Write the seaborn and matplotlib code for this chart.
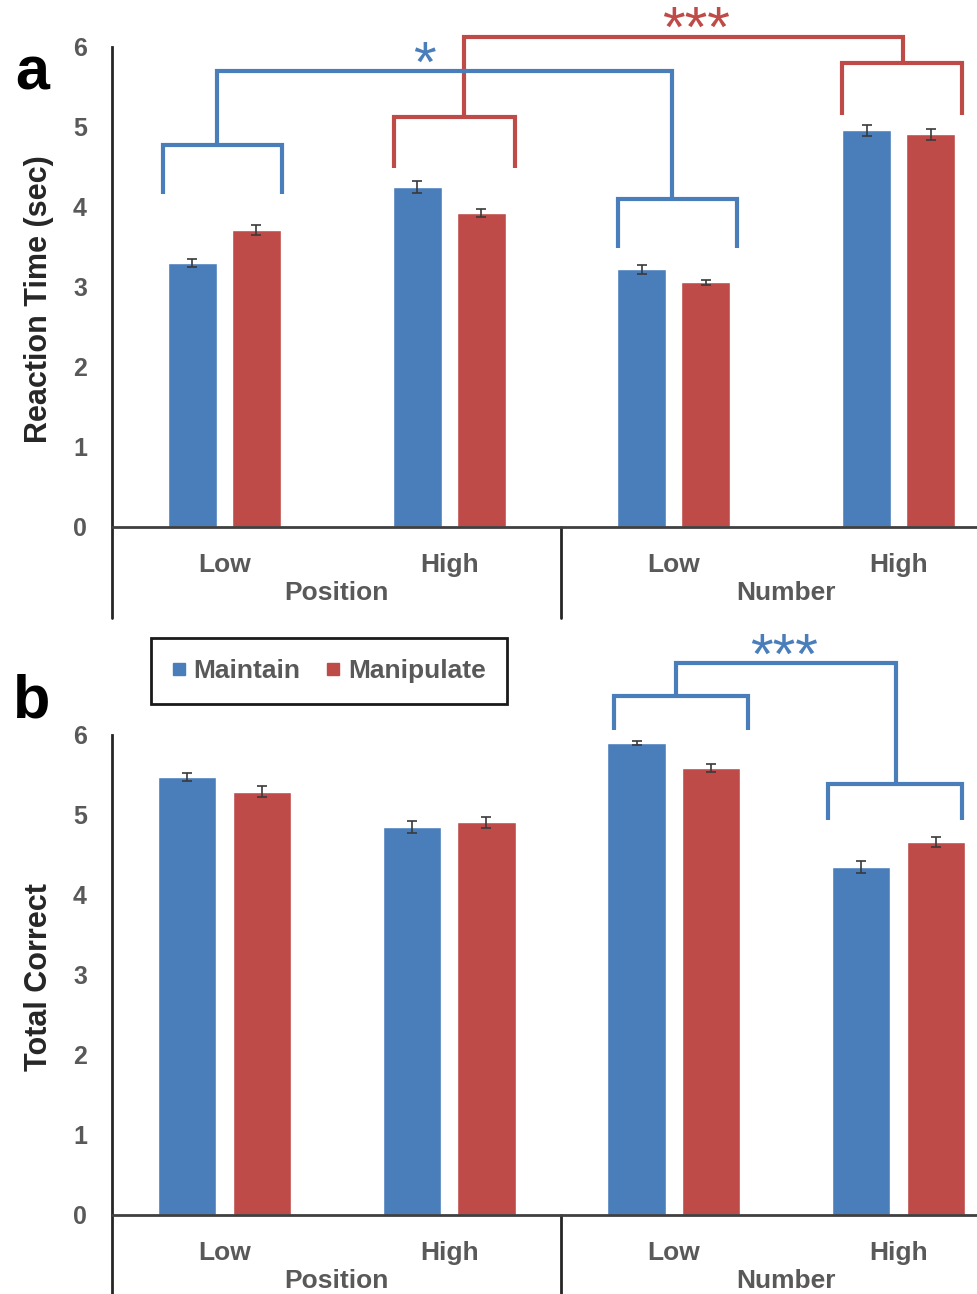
import matplotlib
matplotlib.use('Agg')
import matplotlib.pyplot as plt
from matplotlib.lines import Line2D
import pandas as pd
import seaborn as sns

# x categories (two-level axis: factor / level)
factors = ["Position", "Position", "Number", "Number"]
levels = ["Low", "High", "Low", "High"]
conditions = [f + " " + l for f, l in zip(factors, levels)]
tasks = ["Maintain", "Manipulate"]

# panel a: reaction time (sec)
rt_maintain = [3.30, 4.25, 3.22, 4.96]
rt_manipulate = [3.71, 3.92, 3.06, 4.91]
rt_maintain_err = [0.05, 0.07, 0.06, 0.07]
rt_manipulate_err = [0.06, 0.05, 0.03, 0.07]

# panel b: total correct
tc_maintain = [5.47, 4.85, 5.90, 4.35]
tc_manipulate = [5.29, 4.91, 5.59, 4.66]
tc_maintain_err = [0.05, 0.08, 0.02, 0.07]
tc_manipulate_err = [0.07, 0.07, 0.05, 0.06]

blue = "#4A7EBB"
red = "#BE4B48"
grey = "#595959"
dark = "#262626"

sns.set_theme(style="white")
plt.rcParams['font.family'] = ['Liberation Sans', 'DejaVu Sans']

fig = plt.figure(figsize=(9.78, 12.94), dpi=100)
ax_a = fig.add_axes([112 / 978, 1 - 527 / 1294, 899 / 978, 480 / 1294])
ax_b = fig.add_axes([112 / 978, 1 - 1215 / 1294, 899 / 978, 480 / 1294])


def draw_panel(ax, maint, manip, maint_err, manip_err, ylabel, width, gap, label_y):
    df = pd.DataFrame({
        "condition": conditions * 2,
        "task": ["Maintain"] * 4 + ["Manipulate"] * 4,
        "value": maint + manip,
    })
    sns.barplot(df, x="condition", y="value", hue="task", order=conditions,
                hue_order=tasks, palette=[blue, red], width=width, gap=gap,
                errorbar=None, saturation=1, legend=False, ax=ax)
    for cont, errs in zip(ax.containers, [maint_err, manip_err]):
        xs = [b.get_x() + b.get_width() / 2 for b in cont]
        hs = [b.get_height() for b in cont]
        ax.errorbar(xs, hs, yerr=errs, fmt='none', ecolor='#3a3a3a',
                    elinewidth=1.2, capsize=3.5, capthick=1.2, zorder=3)

    ax.set_xlim(-0.5, 3.5)
    ax.set_ylim(0, 6)
    ax.set_yticks(range(7))
    sns.despine(ax=ax)
    ax.spines['left'].set_color(dark)
    ax.spines['left'].set_linewidth(2)
    ax.spines['bottom'].set_color('#404040')
    ax.spines['bottom'].set_linewidth(2)
    ax.tick_params(axis='both', length=0)
    ax.tick_params(axis='x', pad=19)
    ax.tick_params(axis='y', pad=18)
    ax.set_xticks(range(4))
    ax.set_xticklabels(levels, fontsize=19, fontweight='bold', color=grey)
    ax.set_yticklabels([str(v) for v in range(7)], fontsize=18,
                       fontweight='bold', color=grey)
    ax.set_xlabel('')
    ax.set_ylabel(ylabel, fontsize=22, fontweight='bold', color=dark)
    ax.yaxis.set_label_coords(-0.065, label_y)

    # excel-style multi level category axis
    trans = ax.get_xaxis_transform()
    for x in [-0.5, 1.5]:
        ax.plot([x, x], [0, -0.19], transform=trans, color=dark, lw=2,
                clip_on=False)
    for x, name in [(0.5, "Position"), (2.5, "Number")]:
        ax.text(x, -0.152, name, transform=trans, ha='center', va='baseline',
                fontsize=19, fontweight='bold', color=grey)


def bracket(ax, center, half, y, leg, color):
    ax.plot([center - half, center - half, center + half, center + half],
            [y - leg, y, y, y - leg], color=color, lw=3, clip_on=False,
            solid_joinstyle='miter', solid_capstyle='butt')


def link(ax, x0, y0, x1, y1, top, color):
    ax.plot([x0, x0, x1, x1], [y0, top, top, y1], color=color, lw=3,
            clip_on=False, solid_joinstyle='miter', solid_capstyle='butt')


def stars(ax, x, y, s, color):
    ax.text(x, y, s, ha='center', va='baseline', fontsize=42,
            fontweight='normal', color=color, clip_on=False)


draw_panel(ax_a, rt_maintain, rt_manipulate, rt_maintain_err,
           rt_manipulate_err, "Reaction Time (sec)", 0.57, 0.235, 0.475)
draw_panel(ax_b, tc_maintain, tc_manipulate, tc_maintain_err,
           tc_manipulate_err, "Total Correct", 0.664, 0.22, 0.496)

# panel a significance brackets
bracket(ax_a, 1.025, 0.27, 5.125, 0.635, red)
bracket(ax_a, 3.016, 0.267, 5.80, 0.65, red)
link(ax_a, 1.068, 5.125, 3.02, 5.80, 6.125, red)
bracket(ax_a, -0.008, 0.263, 4.78, 0.62, blue)
bracket(ax_a, 2.018, 0.265, 4.10, 0.61, blue)
link(ax_a, -0.031, 4.78, 1.993, 4.10, 5.70, blue)
stars(ax_a, 0.89, 5.56, "*", blue)
stars(ax_a, 2.10, 6.00, "***", red)

# panel b significance brackets
bracket(ax_b, 2.033, 0.298, 6.49, 0.43, blue)
bracket(ax_b, 2.985, 0.298, 5.39, 0.45, blue)
link(ax_b, 2.011, 6.49, 2.989, 5.39, 6.9, blue)
stars(ax_b, 2.49, 6.77, "***", blue)

# panel letters
fig.text(15 / 978, 1 - 90 / 1294, "a", ha='left', va='baseline',
         fontsize=44, fontweight='bold', color='black')
fig.text(13 / 978, 1 - 718 / 1294, "b", ha='left', va='baseline',
         fontsize=44, fontweight='bold', color='black')

handles = [Line2D([], [], marker='s', ls='', color=c, markersize=9)
           for c in (blue, red)]
leg = fig.legend(handles, tasks, loc='center',
                 bbox_to_anchor=(329 / 978, 1 - 671 / 1294), ncol=2,
                 frameon=True, fancybox=False, edgecolor='#1a1a1a',
                 framealpha=1, prop={'weight': 'bold', 'size': 19},
                 labelcolor=grey, handlelength=0.5, handletextpad=0.3,
                 columnspacing=1.0, borderpad=0.8)
leg.get_frame().set_linewidth(2)

fig.savefig("out.png", dpi=100)
